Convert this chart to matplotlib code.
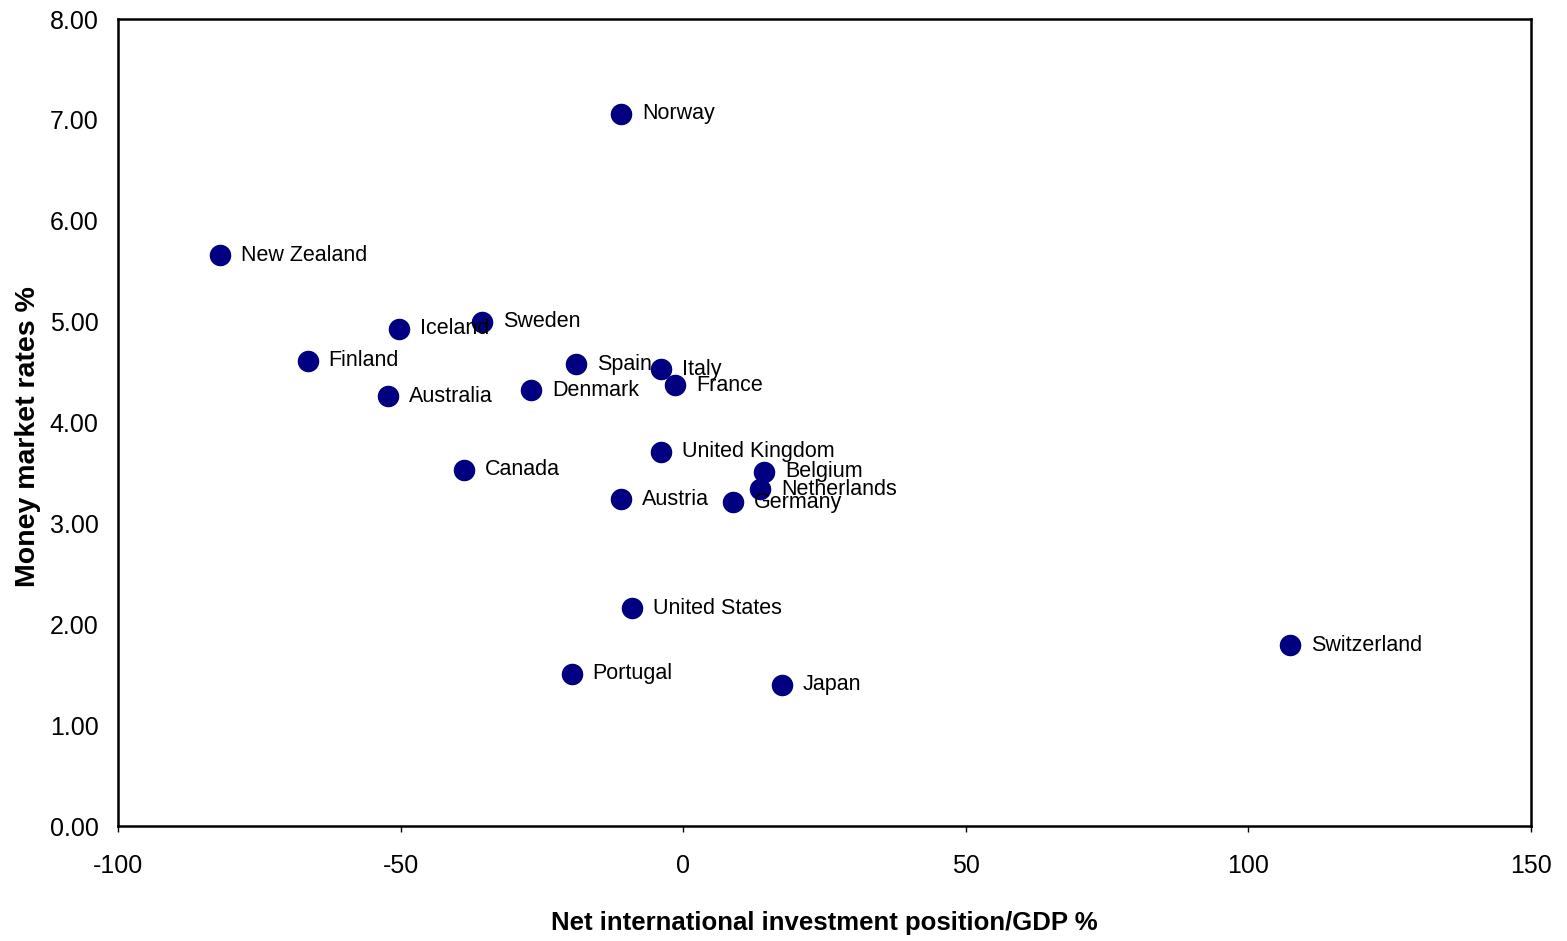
import matplotlib.pyplot as plt

# net international investment position / GDP (%) vs money market rates (%)
countries = ["Norway", "New Zealand", "Iceland", "Sweden", "Finland", "Australia",
             "Spain", "Denmark", "Italy", "France", "United Kingdom", "Canada",
             "Belgium", "Netherlands", "Austria", "Germany", "United States",
             "Switzerland", "Portugal", "Japan"]
niip_gdp = [-11.0, -82.0, -50.3, -35.6, -66.4, -52.2,
            -19.0, -26.9, -3.9, -1.4, -3.9, -38.8,
            14.3, 13.6, -11.0, 8.8, -9.1,
            107.4, -19.7, 17.5]
money_rates = [7.06, 5.66, 4.93, 5.00, 4.61, 4.26,
               4.58, 4.32, 4.53, 4.37, 3.71, 3.53,
               3.51, 3.34, 3.24, 3.21, 2.16,
               1.79, 1.51, 1.40]

x_ticks = [-100, -50, 0, 50, 100, 150]
y_ticks = [0, 1, 2, 3, 4, 5, 6, 7, 8]

plt.rcParams['font.family'] = ['Liberation Sans', 'DejaVu Sans']

fig = plt.figure(figsize=(15.67, 9.41), dpi=100)
ax = fig.add_axes([0.0753, 0.1222, 0.9017, 0.8576])

ax.scatter(niip_gdp, money_rates, s=210, color='#000080', zorder=3)
for name, xv, yv in zip(countries, niip_gdp, money_rates):
    ax.annotate(name, (xv, yv), xytext=(15, 0), textcoords='offset points',
                va='center', ha='left', fontsize=15.5)

ax.set_xlim(-100, 150)
ax.set_ylim(0, 8)
ax.set_xticks(x_ticks)
ax.set_xticklabels([str(v) for v in x_ticks])
ax.set_yticks(y_ticks)
ax.set_yticklabels([f"{v:.2f}" for v in y_ticks])
ax.tick_params(axis='x', length=4, width=1, direction='out', pad=16, labelsize=18)
ax.tick_params(axis='y', length=0, pad=14, labelsize=18)

for sp in ax.spines.values():
    sp.set_linewidth(1.8)

ax.set_xlabel('Net international investment position/GDP %', fontsize=18.5,
              fontweight='bold', labelpad=24)
ax.set_ylabel('Money market rates %', fontsize=20.5, fontweight='bold', labelpad=6)
ax.yaxis.label.set_y(0.483)

fig.savefig('out.png', dpi=100)
